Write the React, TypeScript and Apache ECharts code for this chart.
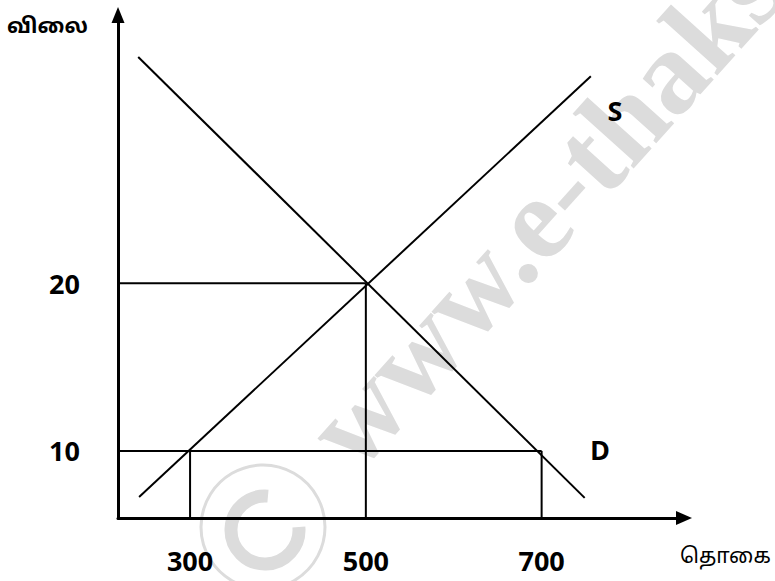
import React, { useEffect, useRef } from "react";
import * as echarts from "echarts";

// Axis ranges (value at the axis origin and at the arrow end)
const xRange = [218, 862];
const yRange = [6, 36];

// Tick labels
const xTicks = [300, 500, 700];
const yTicks = [10, 20];

// Curves
const supplyCurve = [
  [242, 7.25],
  [756, 32.35],
];
const demandCurve = [
  [241, 33.5],
  [749, 7.2],
];

// Guide lines
const priceHighLine = [
  [218, 20],
  [500, 20],
];
const priceLowLine = [
  [218, 10],
  [700, 10],
];
const qtyLowLine = [
  [300, 6],
  [300, 10],
];
const qtyEqLine = [
  [500, 6],
  [500, 20],
];
const qtyHighLine = [
  [700, 6],
  [700, 10],
];

const LABEL_FONT = "'Open Sans', Lato, 'DejaVu Sans', sans-serif";
const TAMIL_FONT = "'Noto Sans Tamil', 'Lohit Tamil', 'Noto Sans', 'DejaVu Sans', sans-serif";

export default function App() {
  const ref = useRef<HTMLDivElement>(null);

  useEffect(() => {
    document.body.style.margin = "0";
    if (!ref.current) return;
    const chart = echarts.init(ref.current, null, { renderer: "svg" });

    const segment = (name: string, data: number[][]) => ({
      name,
      type: "line",
      data,
      symbol: "none",
      silent: true,
      lineStyle: { color: "#000", width: 2 },
      z: 3,
    });

    const wmColor = "#dcdcdc";
    const deg = Math.PI / 180;

    chart.setOption({
      animation: false,
      backgroundColor: "#fff",
      grid: { left: 118, right: 91, top: 15, bottom: 63, containLabel: false },
      xAxis: {
        type: "value",
        min: xRange[0],
        max: xRange[1],
        splitLine: { show: false },
        axisTick: { show: false },
        axisLine: {
          show: true,
          onZero: false,
          symbol: ["none", "triangle"],
          symbolSize: [14, 16],
          lineStyle: { color: "#000", width: 3 },
        },
        axisLabel: {
          customValues: xTicks,
          color: "#000",
          fontFamily: LABEL_FONT,
          fontWeight: "bold",
          fontSize: 27,
          margin: 29,
        },
      },
      yAxis: {
        type: "value",
        min: yRange[0],
        max: yRange[1],
        splitLine: { show: false },
        axisTick: { show: false },
        axisLine: {
          show: true,
          onZero: false,
          symbol: ["none", "triangle"],
          symbolSize: [13, 16],
          lineStyle: { color: "#000", width: 3 },
        },
        axisLabel: {
          customValues: yTicks,
          color: "#000",
          fontFamily: LABEL_FONT,
          fontWeight: "bold",
          fontSize: 27,
          align: "left",
          margin: 69,
          padding: [0, 0, 6, 0],
        },
      },
      graphic: [
        {
          type: "text",
          z: 0,
          silent: true,
          x: 372,
          y: 488,
          rotation: 48 * deg,
          style: {
            text: "www.e-thaksalawa.moe.gov.lk",
            fill: wmColor,
            font: "bold 118px 'Liberation Serif', 'DejaVu Serif', serif",
            textAlign: "left",
            textVerticalAlign: "bottom",
          },
        },
        {
          type: "circle",
          z: 0,
          silent: true,
          shape: { cx: 263, cy: 527, r: 62 },
          style: { fill: "none", stroke: wmColor, lineWidth: 3 },
        },
        {
          type: "arc",
          z: 0,
          silent: true,
          shape: {
            cx: 265,
            cy: 530,
            r: 34,
            startAngle: -5 * deg,
            endAngle: 275 * deg,
            clockwise: true,
          },
          style: { fill: "none", stroke: wmColor, lineWidth: 13 },
        },
        {
          type: "text",
          z: 10,
          x: 7,
          y: 28,
          style: {
            text: "விலை",
            fill: "#000",
            font: `bold 21px ${TAMIL_FONT}`,
            textAlign: "left",
            textVerticalAlign: "middle",
          },
        },
        {
          type: "text",
          z: 10,
          x: 680,
          y: 558,
          style: {
            text: "தொகை",
            fill: "#000",
            font: `21px ${TAMIL_FONT}`,
            textAlign: "left",
            textVerticalAlign: "middle",
          },
        },
        {
          type: "text",
          z: 10,
          x: 615,
          y: 110,
          style: {
            text: "S",
            fill: "#000",
            font: `bold 27px ${LABEL_FONT}`,
            textAlign: "center",
            textVerticalAlign: "middle",
          },
        },
        {
          type: "text",
          z: 10,
          x: 600,
          y: 449,
          style: {
            text: "D",
            fill: "#000",
            font: `bold 27px ${LABEL_FONT}`,
            textAlign: "center",
            textVerticalAlign: "middle",
          },
        },
      ],
      series: [
        segment("S", supplyCurve),
        segment("D", demandCurve),
        segment("price 20", priceHighLine),
        segment("price 10", priceLowLine),
        segment("quantity 300", qtyLowLine),
        segment("quantity 500", qtyEqLine),
        segment("quantity 700", qtyHighLine),
      ],
    });

    return () => chart.dispose();
  }, []);

  return (
    <div
      ref={ref}
      style={{ position: "fixed", left: 0, top: 0, width: 775, height: 581 }}
    />
  );
}
